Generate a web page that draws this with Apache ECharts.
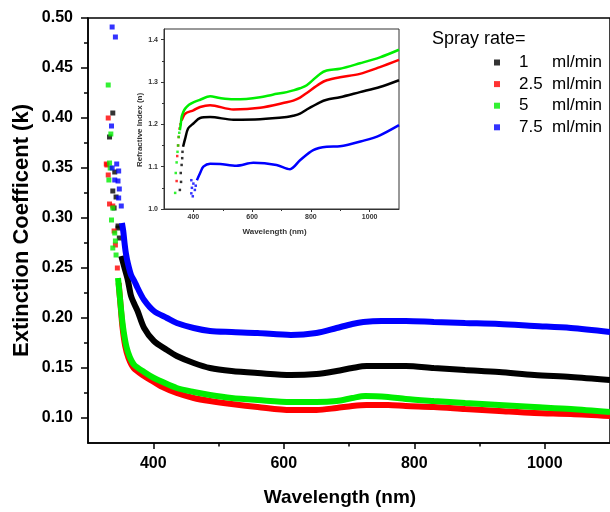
<!DOCTYPE html>
<html><head><meta charset="utf-8">
<script src="https://cdn.jsdelivr.net/npm/echarts@6/dist/echarts.min.js"></script>
<style>html,body{margin:0;padding:0;background:#fff}#c{width:610px;height:512px}</style>
</head><body><div id="c"></div>
<script>
const seriesNames = ['1', '2.5', '5', '7.5'];
const colors = ['#000000', '#ff0000', '#00ee00', '#0000ff'];

const mainXTicks = [400, 600, 800, 1000];
const mainXMinor = [500, 700, 900];
const mainYTicks = [0.10, 0.15, 0.20, 0.25, 0.30, 0.35, 0.40, 0.45, 0.50];
const mainYMinor = [0.125, 0.175, 0.225, 0.275, 0.325, 0.375, 0.425, 0.475];
const insetXTicks = [400, 600, 800, 1000];
const insetXMinor = [500, 700, 900];
const insetYTicks = [1.0, 1.1, 1.2, 1.3, 1.4];
const insetYMinor = [1.05, 1.15, 1.25, 1.35];

// Main plot: extinction coefficient k (scattered UV points + continuous band)
const kBlackPts = [[333,0.381],[338,0.405],[341,0.346],[338,0.327],[343,0.321],[340,0.31],[346,0.29],[348,0.28],[346,0.292]];
const kBlackLine = [[351,0.262],[356,0.25],[361,0.238],[366,0.222],[371,0.214],[376,0.207],[386,0.19],[401,0.177],[421,0.168],[436,0.162],[462,0.155],[487,0.15],[520,0.147],[560,0.145],[611,0.143],[650,0.144],[681,0.147],[705,0.15],[727,0.152],[787,0.152],[830,0.15],[878,0.148],[930,0.146],[984,0.143],[1040,0.141],[1100,0.138]];
const kRedPts = [[331,0.40],[329,0.353],[331,0.343],[333,0.314],[338,0.312],[340,0.287],[342,0.273],[345,0.25],[328,0.354]];
const kRedLine = [[347,0.235],[350,0.212],[353,0.19],[357,0.172],[362,0.16],[370,0.15],[386,0.142],[401,0.136],[411,0.132],[436,0.125],[462,0.12],[487,0.117],[520,0.114],[560,0.111],[611,0.108],[650,0.108],[681,0.11],[705,0.112],[727,0.113],[760,0.113],[787,0.112],[830,0.111],[878,0.109],[930,0.107],[984,0.105],[1040,0.104],[1100,0.102]];
const kGreenPts = [[331,0.433],[335,0.384],[334,0.35],[333,0.355],[332,0.338],[338,0.31],[336,0.298],[341,0.285],[342,0.277],[343,0.263],[338,0.27]];
const kGreenLine = [[346,0.24],[349,0.22],[352,0.2],[355,0.185],[359,0.171],[364,0.161],[371,0.153],[386,0.146],[401,0.14],[411,0.137],[436,0.13],[462,0.126],[487,0.123],[520,0.12],[560,0.118],[611,0.116],[650,0.116],[681,0.117],[705,0.12],[725,0.122],[760,0.121],[787,0.119],[830,0.117],[878,0.115],[930,0.113],[984,0.111],[1040,0.109],[1100,0.106]];
const kBluePts = [[337,0.491],[342,0.481],[336,0.392],[337,0.35],[344,0.354],[347,0.347],[346,0.337],[341,0.338],[348,0.329],[347,0.32],[351,0.312]];
const kBlueLine = [[352,0.295],[354,0.287],[356,0.275],[358,0.265],[361,0.255],[366,0.243],[371,0.237],[376,0.23],[386,0.218],[401,0.207],[421,0.2],[436,0.195],[462,0.19],[487,0.187],[520,0.186],[560,0.185],[611,0.183],[650,0.185],[681,0.19],[705,0.194],[722,0.196],[750,0.197],[787,0.197],[830,0.196],[878,0.195],[930,0.194],[984,0.192],[1040,0.19],[1100,0.186]];

// Inset: refractive index n
const nBlackPts = [[354,1.045],[358,1.064],[357,1.085],[360,1.104],[362,1.12],[363,1.135]];
const nBlackLine = [[365,1.147],[372,1.166],[382,1.19],[400,1.202],[423,1.215],[457,1.217],[536,1.211],[627,1.212],[718,1.217],[740,1.22],[763,1.225],[786,1.235],[831,1.252],[854,1.258],[899,1.264],[967,1.276],[1035,1.288],[1100,1.304]];
const nRedPts = [[343,1.066],[345,1.125],[348,1.15],[350,1.17],[353,1.19],[356,1.2]];
const nRedLine = [[360,1.209],[372,1.225],[400,1.233],[423,1.241],[457,1.245],[536,1.235],[627,1.239],[718,1.252],[740,1.256],[763,1.263],[786,1.274],[831,1.296],[854,1.304],[899,1.311],[967,1.319],[1035,1.335],[1100,1.352]];
const nGreenPts = [[338,1.038],[340,1.085],[343,1.11],[346,1.135],[348,1.15],[350,1.17],[352,1.18]];
const nGreenLine = [[354,1.186],[357,1.2],[360,1.217],[365,1.228],[372,1.237],[385,1.246],[400,1.252],[423,1.258],[457,1.266],[490,1.262],[536,1.259],[580,1.26],[627,1.264],[670,1.27],[718,1.276],[740,1.28],[763,1.285],[786,1.292],[831,1.319],[854,1.327],[899,1.331],[967,1.344],[1035,1.358],[1100,1.376]];
const nBluePts = [[393,1.068],[395,1.05],[393,1.037],[398,1.03],[400,1.06],[405,1.045],[408,1.055]];
const nBlueLine = [[412,1.068],[423,1.085],[434,1.1],[457,1.107],[491,1.106],[547,1.102],[604,1.109],[683,1.104],[729,1.094],[763,1.115],[808,1.139],[854,1.147],[899,1.148],[983,1.162],[1035,1.174],[1100,1.198]];

const FONT = '"Liberation Sans", Arial, sans-serif';

function pair(i, pts, line, axisIdx, ptSize, lw, nameSuffix) {
  return [
    { name: seriesNames[i] + nameSuffix, type: 'scatter', xAxisIndex: axisIdx, yAxisIndex: axisIdx,
      data: pts, symbol: 'rect', symbolSize: ptSize, itemStyle: { color: colors[i] }, z: 3 + i },
    { name: seriesNames[i] + nameSuffix, type: 'line', xAxisIndex: axisIdx, yAxisIndex: axisIdx,
      data: line, smooth: 0.3, showSymbol: false, symbol: 'rect',
      lineStyle: { width: lw, color: colors[i] }, itemStyle: { color: colors[i] }, z: 3 + i }
  ];
}

const series = [].concat(
  pair(0, kBlackPts, kBlackLine, 0, 5, 6, ''),
  pair(1, kRedPts, kRedLine, 0, 5, 6, ''),
  pair(2, kGreenPts, kGreenLine, 0, 5, 6, ''),
  pair(3, kBluePts, kBlueLine, 0, 5, 6, ''),
  pair(0, nBlackPts, nBlackLine, 2, 2.5, 2.5, ' n'),
  pair(1, nRedPts, nRedLine, 2, 2.5, 2.5, ' n'),
  pair(2, nGreenPts, nGreenLine, 2, 2.5, 2.5, ' n'),
  pair(3, nBluePts, nBlueLine, 2, 2.5, 2.5, ' n')
);

const axisLineMain = { show: true, lineStyle: { color: '#000', width: 1.5 } };
const axisLineInset = { show: true, lineStyle: { color: '#333', width: 1 } };
const plain = v => String(v);

const option = {
  animation: false,
  backgroundColor: '#fff',
  title: { text: 'Spray rate=', left: 427, top: 25, padding: 5,
    textStyle: { fontFamily: FONT, fontSize: 18, fontWeight: 'normal', color: '#000' } },
  legend: {
    data: seriesNames, left: 489, top: 49, orient: 'vertical', icon: 'rect',
    itemWidth: 6, itemHeight: 6, itemGap: 4.6,
    textStyle: { fontFamily: FONT, fontSize: 17, color: '#000', lineHeight: 17,
      rich: { g: { width: 14 }, n: { width: 33, fontSize: 17, fontFamily: FONT }, u: { fontSize: 17, fontFamily: FONT } } },
    formatter: name => '{g| }{n|' + name + '}{u|ml/min}'
  },
  grid: [
    { left: 88, top: 18, right: -8, bottom: 67, show: true, borderColor: '#000', borderWidth: 1.5 },
    { left: 164, top: 29, right: 211, bottom: 303, show: true, borderColor: '#333', borderWidth: 1 }
  ],
  xAxis: [
    { gridIndex: 0, type: 'value', min: 300, max: 1100, position: 'bottom',
      name: 'Wavelength (nm)', nameLocation: 'middle', nameGap: 45,
      nameTextStyle: { fontFamily: FONT, fontSize: 19, fontWeight: 'bold', color: '#000', padding: [0, 18, 0, 0] },
      axisLine: axisLineMain, splitLine: { show: false },
      axisTick: { show: true, customValues: mainXTicks, length: 6, lineStyle: { color: '#000', width: 1.5 } },
      axisLabel: { customValues: mainXTicks, margin: 13, fontFamily: FONT, fontSize: 16, fontWeight: 'bold', color: '#000', formatter: plain } },
    { gridIndex: 0, type: 'value', min: 300, max: 1100, position: 'bottom',
      axisLine: { show: false }, splitLine: { show: false }, axisLabel: { show: false },
      axisTick: { show: true, customValues: mainXMinor, length: 3.5, lineStyle: { color: '#000', width: 1.5 } } },
    { gridIndex: 1, type: 'value', min: 300, max: 1100, position: 'bottom',
      name: 'Wavelength (nm)', nameLocation: 'middle', nameGap: 19,
      nameTextStyle: { fontFamily: FONT, fontSize: 8, fontWeight: 'bold', color: '#333', padding: [0, 14, 0, 0] },
      axisLine: axisLineInset, splitLine: { show: false },
      axisTick: { show: true, customValues: insetXTicks, length: 3, lineStyle: { color: '#333' } },
      axisLabel: { customValues: insetXTicks, margin: 5, fontFamily: FONT, fontSize: 7, fontWeight: 'bold', color: '#333', formatter: plain } },
    { gridIndex: 1, type: 'value', min: 300, max: 1100, position: 'bottom',
      axisLine: { show: false }, splitLine: { show: false }, axisLabel: { show: false },
      axisTick: { show: true, customValues: insetXMinor, length: 2, lineStyle: { color: '#333' } } }
  ],
  yAxis: [
    { gridIndex: 0, type: 'value', min: 0.075, max: 0.50, position: 'left',
      name: 'Extinction Coefficent (k)', nameLocation: 'middle', nameGap: 55, nameRotate: 90,
      nameMoveOverlap: false,
      nameTextStyle: { fontFamily: FONT, fontSize: 22, fontWeight: 'bold', color: '#000' },
      axisLine: axisLineMain, splitLine: { show: false },
      axisTick: { show: true, customValues: mainYTicks, length: 7, lineStyle: { color: '#000', width: 1.5 } },
      axisLabel: { customValues: mainYTicks, margin: 15, fontFamily: FONT, fontSize: 16, fontWeight: 'bold', color: '#000',
        formatter: v => v.toFixed(2) } },
    { gridIndex: 0, type: 'value', min: 0.075, max: 0.50, position: 'left',
      axisLine: { show: false }, splitLine: { show: false }, axisLabel: { show: false },
      axisTick: { show: true, customValues: mainYMinor, length: 4, lineStyle: { color: '#000', width: 1.5 } } },
    { gridIndex: 1, type: 'value', min: 1.0, max: 1.425, position: 'left',
      name: 'Refractive Index (n)', nameLocation: 'middle', nameGap: 20, nameRotate: 90,
      nameTextStyle: { fontFamily: FONT, fontSize: 8, fontWeight: 'bold', color: '#333', padding: [0, 22, 0, 0] },
      axisLine: axisLineInset, splitLine: { show: false },
      axisTick: { show: true, customValues: insetYTicks, length: 3, lineStyle: { color: '#333' } },
      axisLabel: { customValues: insetYTicks, margin: 6, fontFamily: FONT, fontSize: 7, fontWeight: 'bold', color: '#333',
        formatter: v => v.toFixed(1) } },
    { gridIndex: 1, type: 'value', min: 1.0, max: 1.425, position: 'left',
      axisLine: { show: false }, splitLine: { show: false }, axisLabel: { show: false },
      axisTick: { show: true, customValues: insetYMinor, length: 2, lineStyle: { color: '#333' } } }
  ],
  series: series
};

const chart = echarts.init(document.getElementById('c'), null, { renderer: 'canvas' });
chart.setOption(option);
</script>
</body></html>
